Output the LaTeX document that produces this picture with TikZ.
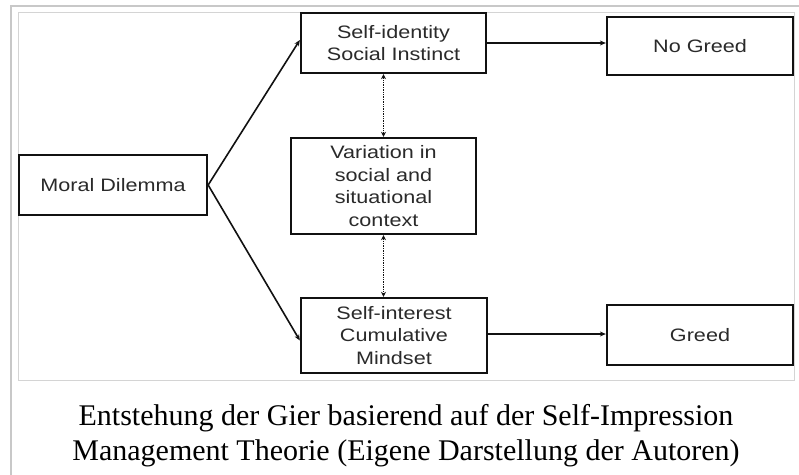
\documentclass[tikz,border=0pt]{standalone}
\usepackage{fontspec}
\setmainfont{Liberation Serif}
\newfontfamily\boxfont[FakeStretch=1.2]{Liberation Sans}
\definecolor{FrameGray}{HTML}{C8C8C8}
\definecolor{InnerGray}{HTML}{D4D4D4}
\definecolor{TextGray}{HTML}{2A2A2A}
\definecolor{LineBlack}{HTML}{111111}
\usetikzlibrary{arrows.meta,positioning}
\tikzset{
    % Sharp-cornered concept boxes
    concept/.style={
        rectangle,
        draw=LineBlack,
        line width=2.3pt,
        fill=white,
        text=TextGray,
        minimum width=186pt,
        minimum height=60pt,
        inner sep=0pt,
        align=center,
        font=\boxfont\fontsize{18}{22.5}\selectfont
    },
    arrow/.style={
        -{Stealth[length=6pt,width=5pt]},
        line width=1.6pt,
        color=LineBlack
    },
    arrow dotted/.style={
        {Stealth[length=5pt,width=5pt]}-{Stealth[length=5pt,width=5pt]},
        line width=1.4pt,
        densely dotted,
        color=LineBlack
    },
    caption/.style={
        align=center,
        inner sep=0pt,
        font=\fontsize{30}{35}\selectfont
    }
}
\begin{document}
\begin{tikzpicture}[x=1pt, y=-1pt]
    \useasboundingbox (0,0) rectangle (799,474);
    % frames
    \draw[FrameGray, line width=2pt] (11,6) rectangle (810,490);
    \draw[InnerGray, line width=1pt] (18,12) rectangle (794,380);

    \node[concept, minimum width=188pt] (dilemma) at (113,185) {Moral Dilemma};
    \node[concept, minimum width=185pt] (identity) at (393.5,43) {Self-identity\\Social Instinct};
    \node[concept, minimum height=96pt, minimum width=185pt] (variation) at (383.5,186) {Variation in\\social and\\situational\\context};
    \node[concept, minimum height=75pt] (interest) at (394,335.5) {Self-interest\\Cumulative\\Mindset};
    \node[concept, minimum height=58pt] (nogreed) at (700,46) {No Greed};
    \node[concept] (greed) at (700,335) {Greed};

    \draw[arrow] (dilemma.east) -- ([yshift=3pt]identity.west);
    \draw[arrow] (dilemma.east) -- ([yshift=-5pt]interest.west);
    \draw[arrow] (identity.east) -- (identity.east -| nogreed.west);
    \draw[arrow] ([yshift=1.5pt]interest.east) -- ([yshift=1.5pt]interest.east -| greed.west);
    \draw[arrow dotted] (variation.north) -- (variation.north |- identity.south);
    \draw[arrow dotted] (variation.south) -- (variation.south |- interest.north);

    % caption (base anchor sits on the last line)
    \node[caption, anchor=base] (title) at (406,460) {Entstehung der Gier basierend auf der Self-Impression\\Management Theorie (Eigene Darstellung der Autoren)};
\end{tikzpicture}
\end{document}
